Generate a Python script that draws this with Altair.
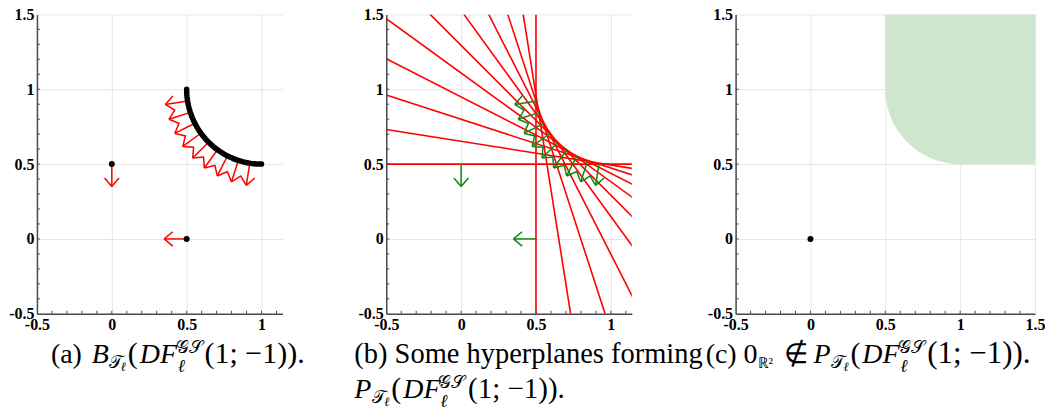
import math
import altair as alt
import pandas as pd

# ---------------- data ----------------
arc_center_x = 1.0
arc_center_y = 1.0
arc_radius = 0.5
arc_angles_deg = list(range(0, 91, 2))                       # samples along the quarter arc
arrow_angles_deg = [9, 18, 27, 36, 45, 54, 63, 72, 81]        # normals drawn on the arc
hyperplane_angles_deg = [0, 9, 18, 27, 36, 45, 54, 63, 72, 81, 90]
point_x = [0.0, 0.5]                                          # isolated points (panel a)
point_y = [0.5, 0.0]
point_arrow_dir_deg = [270, 180]                              # down, left
origin_x = [0.0]
origin_y = [0.0]
arrow_length = 0.15
head_length = 0.075
head_half_angle_deg = 40
region_top = 1.5
region_right = 1.5
major_ticks = [-0.5, 0, 0.5, 1, 1.5]
minor_ticks_ab_x = [-0.4, -0.3, -0.2, -0.1, 0.0, 0.1, 0.2, 0.3, 0.4, 0.5, 0.6, 0.7, 0.8, 0.9, 1.0, 1.1]
minor_ticks_c_x = [-0.4, -0.3, -0.2, -0.1, 0.0, 0.1, 0.2, 0.3, 0.4, 0.5, 0.6, 0.7, 0.8, 0.9, 1.0, 1.1, 1.2, 1.3, 1.4]
minor_ticks_y = minor_ticks_c_x
x_domain_ab = [-0.5, 1.14]
x_domain_c = [-0.5, 1.5]
y_domain = [-0.5, 1.5]

RED = "#ff0000"
GREEN = "#0d8a0d"
FILL = "#cde6cd"
AXIS_COL = "#4a4a4a"
SERIF = "Liberation Serif"

# ---------------- derived tables ----------------
def arc_point(theta_deg):
    t = math.radians(theta_deg)
    return (arc_center_x - arc_radius * math.cos(t), arc_center_y - arc_radius * math.sin(t))

arc_df = pd.DataFrame([{"i": k, "x": arc_point(a)[0], "y": arc_point(a)[1]} for k, a in enumerate(arc_angles_deg)])

def arrow_segments(x0, y0, phi_deg, gid):
    p = math.radians(phi_deg)
    tx, ty = x0 + arrow_length * math.cos(p), y0 + arrow_length * math.sin(p)
    segs = [{"g": gid, "x": x0, "y": y0, "x2": tx, "y2": ty}]
    for s in (-1, 1):
        h = math.radians(phi_deg + 180 + s * head_half_angle_deg)
        segs.append({"g": gid, "x": tx, "y": ty, "x2": tx + head_length * math.cos(h), "y2": ty + head_length * math.sin(h)})
    return segs

arrow_rows = []
for k, a in enumerate(arrow_angles_deg):
    bx, by = arc_point(a)
    arrow_rows += arrow_segments(bx, by, 180 + a, k)
for k, (px, py, d) in enumerate(zip(point_x, point_y, point_arrow_dir_deg)):
    arrow_rows += arrow_segments(px, py, d, 100 + k)
arrow_df = pd.DataFrame(arrow_rows)

hp_rows = []
for a in hyperplane_angles_deg:
    t = math.radians(a)
    c, s = math.cos(t), math.sin(t)
    k = c * arc_center_x + s * arc_center_y - arc_radius
    if s >= c:
        xa, xb = -0.5, 1.5
        hp_rows.append({"x": xa, "y": (k - c * xa) / s, "x2": xb, "y2": (k - c * xb) / s})
    else:
        ya, yb = -0.5, 1.5
        hp_rows.append({"x": (k - s * ya) / c, "y": ya, "x2": (k - s * yb) / c, "y2": yb})
hp_df = pd.DataFrame(hp_rows)

region_rows = [{"x": arc_point(a)[0], "ylo": arc_point(a)[1], "top": region_top} for a in arc_angles_deg]
region_rows.append({"x": region_right, "ylo": arc_center_y - arc_radius, "top": region_top})
region_df = pd.DataFrame(region_rows)

pts_df = pd.DataFrame({"x": point_x, "y": point_y})
origin_df = pd.DataFrame({"x": origin_x, "y": origin_y})

# ---------------- helpers ----------------
def enc_x(xdom, values, field="x"):
    return alt.X(f"{field}:Q", scale=alt.Scale(domain=xdom, nice=False, zero=False),
                 axis=alt.Axis(values=values, labelExpr="toString(datum.value)", grid=True), title=None)

def enc_y(field="y"):
    return alt.Y(f"{field}:Q", scale=alt.Scale(domain=y_domain, nice=False, zero=False),
                 axis=alt.Axis(values=major_ticks, labelExpr="toString(datum.value)", grid=True), title=None)

def tick_layers(xdom, xvals, minor_x):
    xt = pd.DataFrame({"x": minor_x, "y": [-0.5] * len(minor_x), "y2": [-0.5 + 0.02] * len(minor_x)})
    yt = pd.DataFrame({"y": minor_ticks_y, "x": [-0.5] * len(minor_ticks_y), "x2": [-0.5 + 0.02] * len(minor_ticks_y)})
    a = alt.Chart(xt).mark_rule(color=AXIS_COL, strokeWidth=1).encode(
        x=enc_x(xdom, xvals), y=enc_y(), y2="y2:Q")
    b = alt.Chart(yt).mark_rule(color=AXIS_COL, strokeWidth=1).encode(
        x=enc_x(xdom, xvals), x2="x2:Q", y=enc_y())
    return [a, b]

def caption_layers(segs):
    one = pd.DataFrame({"k": [0]})
    out = []
    for text, x, y, size, style in segs:
        out.append(alt.Chart(one).mark_text(
            text=text, font=SERIF, fontSize=size, fontStyle=style,
            align="left", baseline="alphabetic", color="black").encode(
            x=alt.value(x), y=alt.value(y)))
    return out

N, I = "normal", "italic"
cap_a = [("(a)", 14, 349, 28, N), ("B", 55, 349, 28, I), ("𝒯", 72, 354, 18, N), ("ℓ", 84, 357, 13, I),
         ("(", 91, 349, 30, N), ("DF", 103, 349, 28, I), ("𝒢𝒮", 139, 339, 18, N), ("ℓ", 141, 358, 18, I),
         ("(1; −1)).", 168, 349, 30, N)]
cap_b = [("(b) Some hyperplanes forming", -32, 349, 28.5, N),
         ("P", -32, 384, 28, I), ("𝒯", -14, 389, 18, N), ("ℓ", -2, 392, 13, I),
         ("(", 5, 384, 30, N), ("DF", 17, 384, 28, I), ("𝒢𝒮", 52, 374, 18, N), ("ℓ", 54, 393, 18, I),
         ("(1; −1)).", 82, 384, 29, N)]
cap_c = [("(c)", -30, 349, 28, N), ("0", 8, 349, 28, N), ("ℝ²", 22, 354, 15, N), ("∉", 48, 349, 28, N),
         ("P", 78, 349, 28, I), ("𝒯", 96, 354, 18, N), ("ℓ", 108, 357, 13, I),
         ("(", 115, 349, 30, N), ("DF", 127, 349, 28, I), ("𝒢𝒮", 163, 339, 18, N), ("ℓ", 165, 358, 18, I),
         ("(1; −1)).", 192, 349, 31, N)]

# ---------------- panel a ----------------
xv_ab = [-0.5, 0, 0.5, 1]
arc_a = alt.Chart(arc_df).mark_line(color="black", strokeWidth=5.5, strokeCap="round").encode(
    x=enc_x(x_domain_ab, xv_ab), y=enc_y(), order="i:Q")
arrows_a = alt.Chart(arrow_df).mark_rule(color=RED, strokeWidth=1.5).encode(
    x=enc_x(x_domain_ab, xv_ab), y=enc_y(), x2="x2:Q", y2="y2:Q")
pts_a = alt.Chart(pts_df).mark_circle(color="black", size=36, opacity=1).encode(
    x=enc_x(x_domain_ab, xv_ab), y=enc_y())
anchor = alt.Chart(pd.DataFrame({"k": [0]})).mark_point(filled=True, size=3, opacity=0).encode(
    x=alt.value(-28), y=alt.value(-4))
panel_a = alt.layer(arrows_a, arc_a, pts_a, *tick_layers(x_domain_ab, xv_ab, minor_ticks_ab_x),
                    *caption_layers(cap_a), anchor).properties(width=246, height=300)

# ---------------- panel b ----------------
lines_b = alt.Chart(hp_df).mark_rule(color=RED, strokeWidth=1.6, clip=True).encode(
    x=enc_x(x_domain_ab, xv_ab), y=enc_y(), x2="x2:Q", y2="y2:Q")
arrows_b = alt.Chart(arrow_df).mark_rule(color=GREEN, strokeWidth=1.5).encode(
    x=enc_x(x_domain_ab, xv_ab), y=enc_y(), x2="x2:Q", y2="y2:Q")
panel_b = alt.layer(lines_b, arrows_b, *tick_layers(x_domain_ab, xv_ab, minor_ticks_ab_x),
                    *caption_layers(cap_b)).properties(width=246, height=300)

# ---------------- panel c ----------------
xv_c = major_ticks
region_c = alt.Chart(region_df).mark_area(fill=FILL, opacity=1, strokeWidth=0).encode(
    x=enc_x(x_domain_c, xv_c), y=enc_y("ylo"), y2="top:Q")
origin_c = alt.Chart(origin_df).mark_circle(color="black", size=36, opacity=1).encode(
    x=enc_x(x_domain_c, xv_c), y=enc_y())
panel_c = alt.layer(region_c, origin_c, *tick_layers(x_domain_c, xv_c, minor_ticks_c_x),
                    *caption_layers(cap_c)).properties(width=300, height=300)

chart = alt.hconcat(panel_a, panel_b, panel_c, spacing=104, bounds="flush").properties(
    padding={"left": 0, "top": -2, "right": 0, "bottom": 0}
).configure_axis(
    domainColor=AXIS_COL, domainWidth=1.5, ticks=False,
    labelFont=SERIF, labelFontSize=16, labelFontWeight="bold", labelColor="black",
    labelFlush=False, labelOverlap=False, gridColor="#e6e6e6", gridWidth=1,
).configure_axisX(labelPadding=3).configure_axisY(labelPadding=3).configure_view(strokeWidth=0)

chart.save("out.html", embed_options={"renderer": "svg", "actions": False})
